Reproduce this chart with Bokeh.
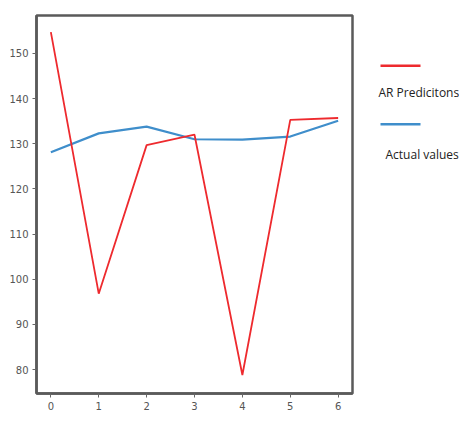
from bokeh.plotting import figure
from bokeh.layouts import row
from bokeh.models import Range1d, FixedTicker, Label, ColumnDataSource
from bokeh.embed import file_html
from bokeh.resources import INLINE

# data
steps = [0, 1, 2, 3, 4, 5, 6]
ar_predictions = [154.7, 96.8, 129.7, 132.0, 78.8, 135.3, 135.7]
actual_values = [128.1, 132.3, 133.8, 131.0, 130.9, 131.6, 135.1]
series_labels = ["AR Predicitons", "Actual values"]
series_colors = ["#ee2a2e", "#3f8ecb"]
y_ticks = [80, 90, 100, 110, 120, 130, 140, 150]
x_ticks = [0, 1, 2, 3, 4, 5, 6]

p = figure(width=354, height=421, output_backend="svg", toolbar_location=None,
           x_range=Range1d(-0.3, 6.3), y_range=Range1d(74.7, 158.4),
           min_border_left=36, min_border_right=2, min_border_top=15, min_border_bottom=28)
p.xgrid.visible = False
p.ygrid.visible = False
p.outline_line_color = "#5a5a5a"
p.outline_line_width = 2.5

p.line(steps, actual_values, line_color=series_colors[1], line_width=2.2)
p.line(steps, ar_predictions, line_color=series_colors[0], line_width=1.8)

for ax in (p.xaxis[0], p.yaxis[0]):
    ax.axis_line_color = "#5a5a5a"
    ax.axis_line_width = 2.5
    ax.major_tick_line_color = "#666666"
    ax.major_tick_out = 4
    ax.major_tick_in = 0
    ax.minor_tick_line_color = None
    ax.major_label_text_font = "DejaVu Sans"
    ax.major_label_text_font_size = "10px"
    ax.major_label_text_color = "#555555"
    ax.major_label_standoff = 4
p.xaxis.ticker = FixedTicker(ticks=x_ticks)
p.yaxis.ticker = FixedTicker(ticks=y_ticks)

# legend panel
lg = figure(width=105, height=421, output_backend="svg", toolbar_location=None,
            x_range=Range1d(0, 105), y_range=Range1d(421, 0),
            min_border=0)
lg.axis.visible = False
lg.xgrid.visible = False
lg.ygrid.visible = False
lg.outline_line_color = None

seg_y = [56, 121]
txt_y = [86, 155]
txt_x = [24, 31]
for i, (lab, col) in enumerate(zip(series_labels, series_colors)):
    src = ColumnDataSource(dict(x=[26, 66], y=[seg_y[i], seg_y[i]]))
    lg.line("x", "y", source=src, line_color=col, line_width=2.5)
    lg.add_layout(Label(x=txt_x[i], y=txt_y[i], text=lab, text_font="Open Sans",
                        text_font_size="12px", text_color="#222222",
                        text_baseline="middle", text_align="left"))

layout = row(p, lg, spacing=0)
open("out.html", "w").write(file_html(layout, INLINE))
